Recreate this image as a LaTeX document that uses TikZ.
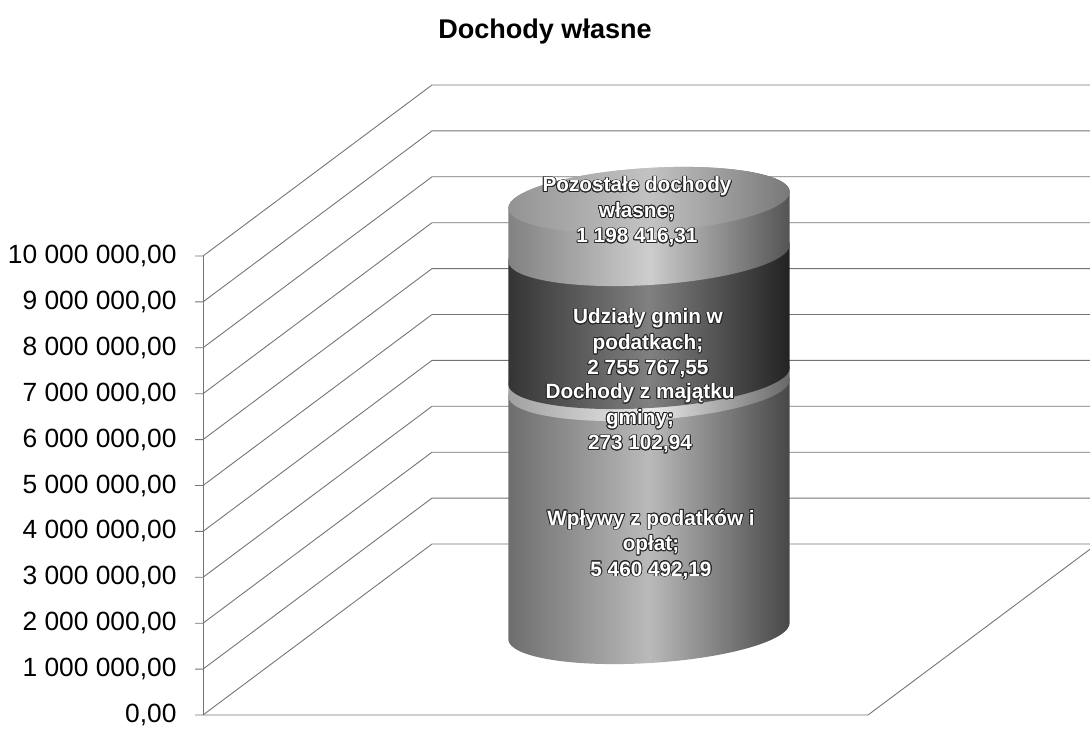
\documentclass[tikz,border=0pt]{standalone}
\usepackage{fontspec}
\setmainfont{Liberation Sans}
\usepackage[copies]{contour}
\contourlength{0.5pt}
\usetikzlibrary{positioning,calc}
\definecolor{wplywy}{HTML}{9C9C9C}
\definecolor{majatek}{HTML}{E4E4E4}
\definecolor{udzialy}{HTML}{4A4A4A}
\definecolor{pozostale}{HTML}{B8B8B8}
\tikzset{
  every picture/.append style={line width=0.6pt},
}
\newcommand{\wlbl}[1]{\contour{black!85}{#1}}

\begin{document}
\begin{tikzpicture}[x=0.02cm, y=0.02cm,
  grid/.style={draw=black!55, line width=0.5pt},
  ticklbl/.style={anchor=east, inner sep=0pt, font=\fontsize{15}{18}\selectfont},
  seglbl/.style={align=center, inner sep=0pt, text=white,
                 font=\fontsize{11.8}{13}\selectfont\bfseries},
  seg/.style={left color=#1!70!black, right color=#1!45!black, middle color=#1!70!white}
]
\path[use as bounding box, clip] (0,0) rectangle (1090,728);

% Title
\node[font=\fontsize{15.4}{18}\selectfont\bfseries] (title) at (545,696) {Dochody własne};

% Walls and axis
\draw[grid] (203,13) -- (203,472);
\draw[grid] (203,13) -- (868,13) -- (1097,184);
\foreach \k/\txt in {0/{0,00}, 1/{1 000 000,00}, 2/{2 000 000,00}, 3/{3 000 000,00},
                     4/{4 000 000,00}, 5/{5 000 000,00}, 6/{6 000 000,00}, 7/{7 000 000,00},
                     8/{8 000 000,00}, 9/{9 000 000,00}, 10/{10 000 000,00}} {
  \draw[grid] (195,13+45.9*\k) -- (203,13+45.9*\k) -- (432,184+45.9*\k) -- (1090,184+45.9*\k);
  \node[ticklbl] (tick\k) at (177,13+45.9*\k) {\txt};
}

% Cylinder
\foreach \lo/\hi/\col in {97/340/wplywy, 340/352/majatek, 352/475/udzialy, 475/528/pozostale}
  \shade[seg=\col] {[rotate around={3.5:(649,\lo)}] (649,\lo) ellipse [x radius=141, y radius=32]}
    (508.3,\lo-8.6) -- (789.7,\lo+8.6) -- (789.7,\hi+8.6) -- (508.3,\hi-8.6) -- cycle
    {[rotate around={3.5:(649,\hi)}] (649,\hi) ellipse [x radius=141, y radius=32]};
\shade[left color=pozostale!80!black, right color=pozostale!65!black, middle color=pozostale!85!white]
  {[rotate around={3.5:(649,528)}] (649,528) ellipse [x radius=141, y radius=32]};

% Labels
\node[seglbl] (wplywy) at (651,183) {\wlbl{Wpływy z podatków i}\\[1.5pt]\wlbl{opłat;}\\[1.5pt]\wlbl{5 460 492,19}};
\node[seglbl] (majatek) at (640,309) {\wlbl{Dochody z majątku}\\[1.5pt]\wlbl{gminy;}\\[1.5pt]\wlbl{273 102,94}};
\node[seglbl] (udzialy) at (648,384) {\wlbl{Udziały gmin w}\\[1.5pt]\wlbl{podatkach;}\\[1.5pt]\wlbl{2 755 767,55}};
\node[seglbl] (pozostale) at (637,516) {\wlbl{Pozostałe dochody}\\[1.5pt]\wlbl{własne;}\\[1.5pt]\wlbl{1 198 416,31}};

\end{tikzpicture}
\end{document}
